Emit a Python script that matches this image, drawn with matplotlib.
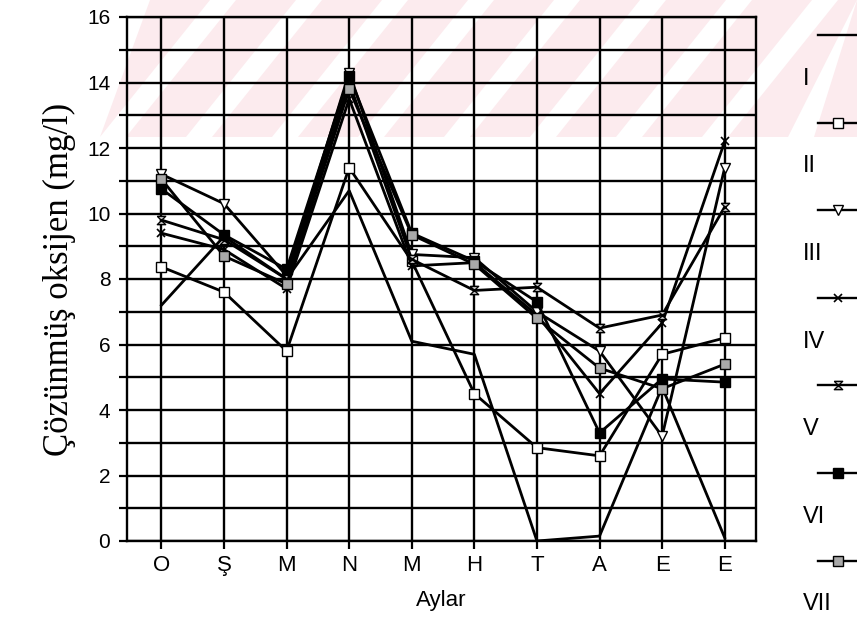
import matplotlib.pyplot as plt
import numpy as np
from matplotlib.lines import Line2D
from matplotlib.patches import Polygon
from matplotlib.ticker import MultipleLocator

# ---------------------------------------------------------
# veriler
# ---------------------------------------------------------
aylar = ['O', 'Ş', 'M', 'N', 'M', 'H', 'T', 'A', 'E', 'E']
seri_adlari = ['I', 'II', 'III', 'IV', 'V', 'VI', 'VII']

seri_I = [7.2, 9.3, 8.0, 10.7, 6.1, 5.7, 0.0, 0.15, 4.7, 0.1]
seri_II = [8.37, 7.6, 5.8, 11.4, 8.55, 4.5, 2.85, 2.6, 5.7, 6.2]
seri_III = [11.2, 10.3, 8.1, 14.3, 8.75, 8.65, 7.0, 5.8, 3.2, 11.4]
seri_IV = [9.4, 8.9, 7.7, 13.5, 8.4, 8.5, 6.9, 4.5, 6.65, 12.2]
seri_V = [9.8, 9.2, 8.0, 14.0, 8.6, 7.65, 7.75, 6.5, 6.9, 10.2]
seri_VI = [10.75, 9.35, 8.3, 14.2, 9.4, 8.55, 7.3, 3.3, 4.95, 4.85]
seri_VII = [11.05, 8.7, 7.85, 13.8, 9.35, 8.45, 6.8, 5.28, 4.65, 5.4]

# ---------------------------------------------------------
# stiller
# ---------------------------------------------------------
kum_saati = [(-1, 1), (1, 1), (-1, -1), (1, -1), (-1, 1)]
stiller = {
    'I': dict(marker='None'),
    'II': dict(marker='s', mfc='white', ms=6.5),
    'III': dict(marker='v', mfc='white', ms=6.5),
    'IV': dict(marker='x', ms=6, mew=1.2),
    'V': dict(marker=kum_saati, mfc='#bbbbbb', ms=6),
    'VI': dict(marker='s', mfc='black', ms=7),
    'VII': dict(marker='s', mfc='#a9a9a9', ms=7),
}


def ciz():
    fig = plt.figure(figsize=(8.57, 6.26), dpi=100)
    W, H = 857, 626

    # arka plandaki pembe filigran
    def px(x, y):
        return (x / W, 1 - y / H)

    y0, y1 = 0, 137
    for x in range(40, 960, 86):
        pts = [(x, y1), (x + 60, y1), (x + 60 + 110, y0), (x + 110, y0)]
        pts = [(min(max(a, 100), 857), b) for a, b in pts]
        fig.patches.append(Polygon([px(a, b) for a, b in pts], closed=True,
                                   transform=fig.transFigure,
                                   facecolor='#fcebee', edgecolor='none',
                                   zorder=-5))

    ax = fig.add_axes([127 / W, 1 - 541 / H, (756 - 127) / W, (541 - 17) / H])
    ax.set_facecolor('none')
    ax.set_zorder(2)

    x = np.arange(len(aylar))
    veriler = [seri_I, seri_II, seri_III, seri_IV, seri_V, seri_VI, seri_VII]

    for ad, degerler in zip(seri_adlari, veriler):
        st = stiller[ad]
        ax.plot(x, degerler, color='black', lw=2.0, mec='black',
                zorder=3, **st)

    ax.set_xlim(-0.55, 9.5)
    ax.set_ylim(0, 16)
    ax.set_xticks(x)
    ax.set_xticklabels(aylar, fontsize=16, family='Liberation Sans')
    ax.yaxis.set_major_locator(MultipleLocator(2))
    ax.yaxis.set_minor_locator(MultipleLocator(1))
    for lab in ax.get_yticklabels():
        lab.set_family('Liberation Sans')
        lab.set_fontsize(15)

    ax.grid(True, which='both', axis='y', color='black', lw=1.7, zorder=1)
    ax.grid(True, which='major', axis='x', color='black', lw=1.7, zorder=1)
    ax.tick_params(axis='both', which='both', direction='out', length=6,
                   width=1.6, color='black')
    ax.tick_params(axis='x', pad=4)
    ax.tick_params(axis='y', pad=6)
    for sp in ax.spines.values():
        sp.set_linewidth(1.7)

    ax.set_xlabel('Aylar', fontsize=16, family='Liberation Sans', labelpad=10)
    ax.set_ylabel('Çözünmüş oksijen (mg/l)', fontsize=25,
                  family='Liberation Serif', labelpad=8)

    # lejant (sağda, kırpılmış görünüm)
    ust = 35
    adim = 43.8
    for i, ad in enumerate(seri_adlari):
        yh = ust + 2 * i * adim
        yl = yh + adim
        st = dict(stiller[ad])
        fig.add_artist(Line2D([818 / W, 838 / W, 858 / W],
                              [1 - yh / H] * 3, transform=fig.transFigure,
                              color='black', lw=1.7, mec='black',
                              markevery=[1], **st))
        fig.text(803 / W, 1 - yl / H, ad, fontsize=17,
                 family='Liberation Sans', va='center', ha='left')

    fig.savefig('out.png', dpi=100)


if __name__ == '__main__':
    ciz()
